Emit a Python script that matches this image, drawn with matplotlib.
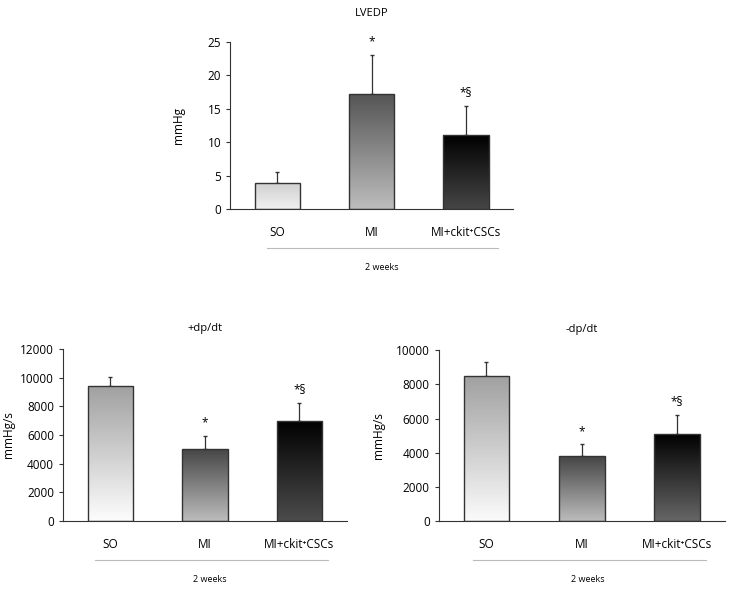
import matplotlib
matplotlib.use("Agg")
import matplotlib.pyplot as plt
import numpy as np
from matplotlib.colors import LinearSegmentedColormap

plt.rcParams['font.family'] = ['Open Sans', 'DejaVu Sans']

# Datos
grupos = ["SO", "MI", "MI+ckit\u207aCSCs"]

lvedp = [3.9, 17.2, 11.1]
lvedp_err = [1.7, 5.9, 4.3]
lvedp_marcas = ["", "*", "*§"]

dp_pos = [9450, 5050, 7000]
dp_pos_err = [600, 900, 1200]
dp_pos_marcas = ["", "*", "*§"]

dp_neg = [8500, 3800, 5100]
dp_neg_err = [800, 700, 1100]
dp_neg_marcas = ["", "*", "*§"]

# Colores de degradado (arriba, abajo) por barra
grad_lvedp = [("#cfcfcf", "#f0f0f0"), ("#555555", "#bdbdbd"), ("#000000", "#464646")]
grad_pos = [("#a0a0a0", "#fdfdfd"), ("#454545", "#bcbcbc"), ("#000000", "#4c4c4c")]
grad_neg = [("#a0a0a0", "#fbfbfb"), ("#454545", "#bcbcbc"), ("#000000", "#666666")]


def barras_degradado(ax, valores, errores, colores, marcas, ymax, yticks):
    x = np.arange(len(valores))
    barras = ax.bar(x, valores, width=0.48, facecolor="none", edgecolor="#333333",
                    linewidth=1.0, zorder=3)
    ax.errorbar(x, valores, yerr=[np.zeros(len(errores)), errores], fmt="none",
                ecolor="#333333", elinewidth=0.9, capsize=1.5, zorder=2)
    for b, (c_top, c_bot) in zip(barras, colores):
        cmap = LinearSegmentedColormap.from_list("g", [c_bot, c_top])
        grad = np.linspace(0, 1, 256).reshape(-1, 1)
        ext = (b.get_x(), b.get_x() + b.get_width(), 0, b.get_height())
        im = ax.imshow(grad, cmap=cmap, extent=ext, origin="lower", aspect="auto", zorder=2.5)
        im.set_clip_path(b)
    for xi, v, e, m in zip(x, valores, errores, marcas):
        if m:
            ax.text(xi, v + e + ymax * 0.075, m, ha="center", va="center", fontsize=8.5)
    ax.set_xlim(-0.5, 2.5)
    ax.set_ylim(0, ymax)
    ax.set_yticks(yticks)
    ax.set_xticks(x)
    ax.set_xticklabels(grupos, fontsize=8.5)
    ax.tick_params(axis="x", length=0, pad=12)
    ax.tick_params(axis="y", labelsize=8.5, length=3, direction="out", color="#333333")
    for s in ["top", "right"]:
        ax.spines[s].set_visible(False)
    for s in ["left", "bottom"]:
        ax.spines[s].set_color("#333333")


def pie_semanas(ax, x0, x1, y_linea, x_txt, y_txt):
    ax.plot([x0, x1], [y_linea, y_linea], transform=ax.transAxes, color="#bbbbbb",
            linewidth=0.8, clip_on=False)
    ax.text(x_txt, y_txt, "2 weeks", transform=ax.transAxes, ha="center", va="center", fontsize=6.5)


fig = plt.figure(figsize=(7.35, 5.93), dpi=100)

ax1 = fig.add_axes([0.313, 0.6476, 0.385, 0.2816])
barras_degradado(ax1, lvedp, lvedp_err, grad_lvedp, lvedp_marcas, 25, [0, 5, 10, 15, 20, 25])
ax1.text(0.5, 1.168, "LVEDP", transform=ax1.transAxes, ha="center", va="center", fontsize=8)
ax1.set_ylabel("mmHg", fontsize=8.5)
ax1.yaxis.set_label_coords(-0.159, 0.5)
pie_semanas(ax1, 0.13, 0.947, -0.234, 0.537, -0.353)

ax2 = fig.add_axes([0.0857, 0.1214, 0.386, 0.29])
barras_degradado(ax2, dp_pos, dp_pos_err, grad_pos, dp_pos_marcas, 12000,
                 [0, 2000, 4000, 6000, 8000, 10000, 12000])
ax2.text(0.5, 1.122, "+dp/dt", transform=ax2.transAxes, ha="center", va="center", fontsize=8)
ax2.set_ylabel("mmHg/s", fontsize=8.5)
ax2.yaxis.set_label_coords(-0.169, 0.5)
pie_semanas(ax2, 0.113, 0.933, -0.227, 0.518, -0.343)

ax3 = fig.add_axes([0.597, 0.1214, 0.389, 0.288])
barras_degradado(ax3, dp_neg, dp_neg_err, grad_neg, dp_neg_marcas, 10000,
                 [0, 2000, 4000, 6000, 8000, 10000])
ax3.text(0.5, 1.122, "-dp/dt", transform=ax3.transAxes, ha="center", va="center", fontsize=8)
ax3.set_ylabel("mmHg/s", fontsize=8.5)
ax3.yaxis.set_label_coords(-0.189, 0.5)
pie_semanas(ax3, 0.119, 0.934, -0.228, 0.52, -0.343)

fig.savefig("out.png", dpi=100)
